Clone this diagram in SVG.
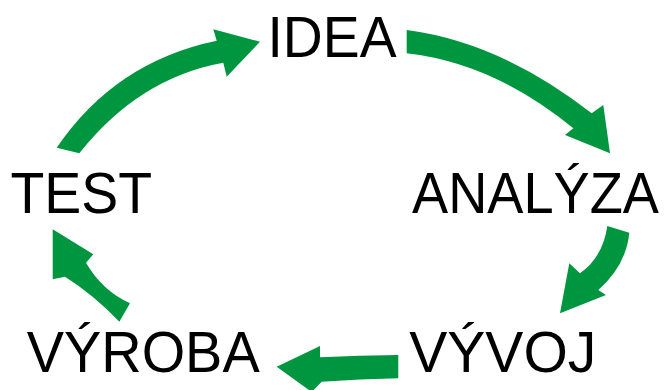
<svg xmlns="http://www.w3.org/2000/svg" width="666" height="390" viewBox="0 0 666 390">
<style>
.lbl{font-family:"Liberation Sans",Arial,sans-serif;font-size:57px;fill:#000}
.arr{fill:#009640}
</style>
<rect width="666" height="390" fill="#fff"/>
<g id="connectors">
<path class="arr" d="M56.7,147.7 Q115,61.8 216.7,40.7 L213.3,29.3 L260,41.7 L226.7,76.7 L223.3,62.7 Q138.7,78 79.3,153.3 Z"/>
<path class="arr" d="M406.7,30 Q500.8,42.3 591.7,113.3 L603.3,105 L610,153.3 L565,135 L573.3,128.3 Q494,63.2 406.7,53.3 Z"/>
<path class="arr" d="M629.3,232.7 Q626.2,265.3 598.3,290 L606,295 L560,313.3 L569.3,263.3 L580,273.3 Q603,257 607.3,226 Z"/>
<path class="arr" d="M398.3,355 Q360,355.5 320,357.3 L320,346 L276.7,366.7 L311.7,392 L321.7,381.7 Q360,379 398.3,378.3 Z"/>
<path class="arr" d="M130,303.3 Q102,290.4 86,262.7 L93.3,254.3 L52.7,229.3 L52.7,279.3 L65,276.7 Q93.8,294.8 119.3,321.7 Z"/>
</g>
<g id="idea"><text class="lbl" x="267.5" y="57" textLength="129" lengthAdjust="spacingAndGlyphs">IDEA</text></g>
<g id="analyza"><text class="lbl" x="412" y="213" style="font-size:55px" transform="translate(0,213) scale(1,1.036) translate(0,-213)" textLength="247" lengthAdjust="spacingAndGlyphs">ANALÝZA</text></g>
<g id="vyvoj"><text class="lbl" x="409.3" y="372" textLength="187" lengthAdjust="spacingAndGlyphs">VÝVOJ</text></g>
<g id="vyroba"><text class="lbl" x="26.7" y="372" textLength="233" lengthAdjust="spacingAndGlyphs">VÝROBA</text></g>
<g id="test"><text class="lbl" x="10.4" y="213" textLength="141.6" lengthAdjust="spacingAndGlyphs">TEST</text></g>
</svg>
